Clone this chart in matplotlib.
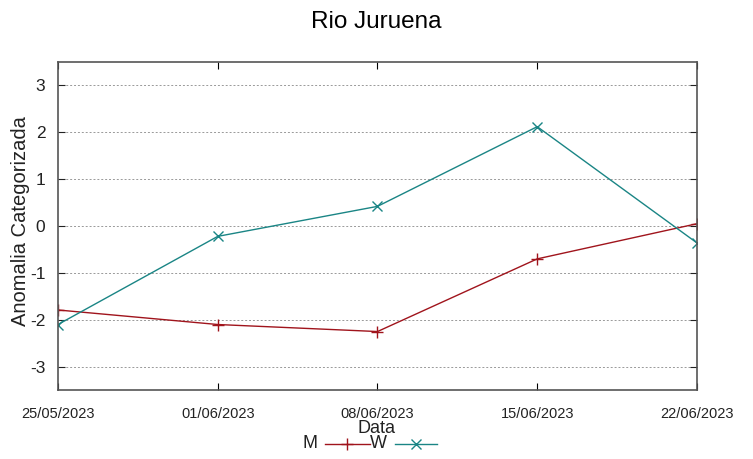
import matplotlib
matplotlib.use("Agg")
import matplotlib.pyplot as plt
from matplotlib.lines import Line2D

datas = ["25/05/2023", "01/06/2023", "08/06/2023", "15/06/2023", "22/06/2023"]
m_vals = [-1.79, -2.1, -2.25, -0.7, 0.05]
w_vals = [-2.1, -0.22, 0.42, 2.12, -0.36]

plt.rcParams['font.family'] = ['Liberation Sans', 'DejaVu Sans']
plt.rcParams['axes.unicode_minus'] = False

fig = plt.figure(figsize=(7.53, 4.59), dpi=100)
ax = fig.add_axes([0.077, 0.150, 0.8486, 0.715])

x = list(range(len(datas)))
ax.plot(x, m_vals, color='#a0141c', lw=1.0, marker='+', ms=8, mew=1.0)
ax.plot(x, w_vals, color='#1a8585', lw=1.0, marker='x', ms=7, mew=1.0)

ax.set_xlim(0, len(datas) - 1)
ax.set_ylim(-3.5, 3.5)
ax.set_yticks([-3, -2, -1, 0, 1, 2, 3])
ax.set_xticks(x)
ax.set_xticklabels(datas, fontsize=10.5, color='#222222')
ax.tick_params(axis='y', labelsize=12.5, colors='#222222', direction='in', right=True, length=5, pad=9)
ax.tick_params(axis='x', direction='in', top=True, length=5, pad=12)
ax.grid(axis='y', color='#999999', linestyle=(0, (2, 2)), lw=0.7)

for s in ax.spines.values():
    s.set_color('#555555')
    s.set_linewidth(1.2)

fig.text(0.5, 0.952, "Rio Juruena", ha='center', va='center', fontsize=17.5)
fig.text(0.5, 0.067, "Data", ha='center', va='center', fontsize=13, color='#222222')
fig.text(0.027, 0.518, "Anomalia Categorizada", ha='center', va='center', rotation=90,
         fontsize=14.5, color='#222222')

# legend at the bottom, gnuplot style
fig.text(0.412, 0.033, "M", ha='center', va='center', fontsize=13, color='#222222')
fig.text(0.502, 0.033, "W", ha='center', va='center', fontsize=13, color='#222222')
fig.add_artist(Line2D([0.432, 0.492], [0.033, 0.033], color='#a0141c', lw=1.0))
fig.add_artist(Line2D([0.461], [0.033], color='#a0141c', marker='+', ms=8, mew=1.0))
fig.add_artist(Line2D([0.525, 0.581], [0.033, 0.033], color='#1a8585', lw=1.0))
fig.add_artist(Line2D([0.553], [0.033], color='#1a8585', marker='x', ms=7, mew=1.0))

fig.savefig("out.png", dpi=100)
